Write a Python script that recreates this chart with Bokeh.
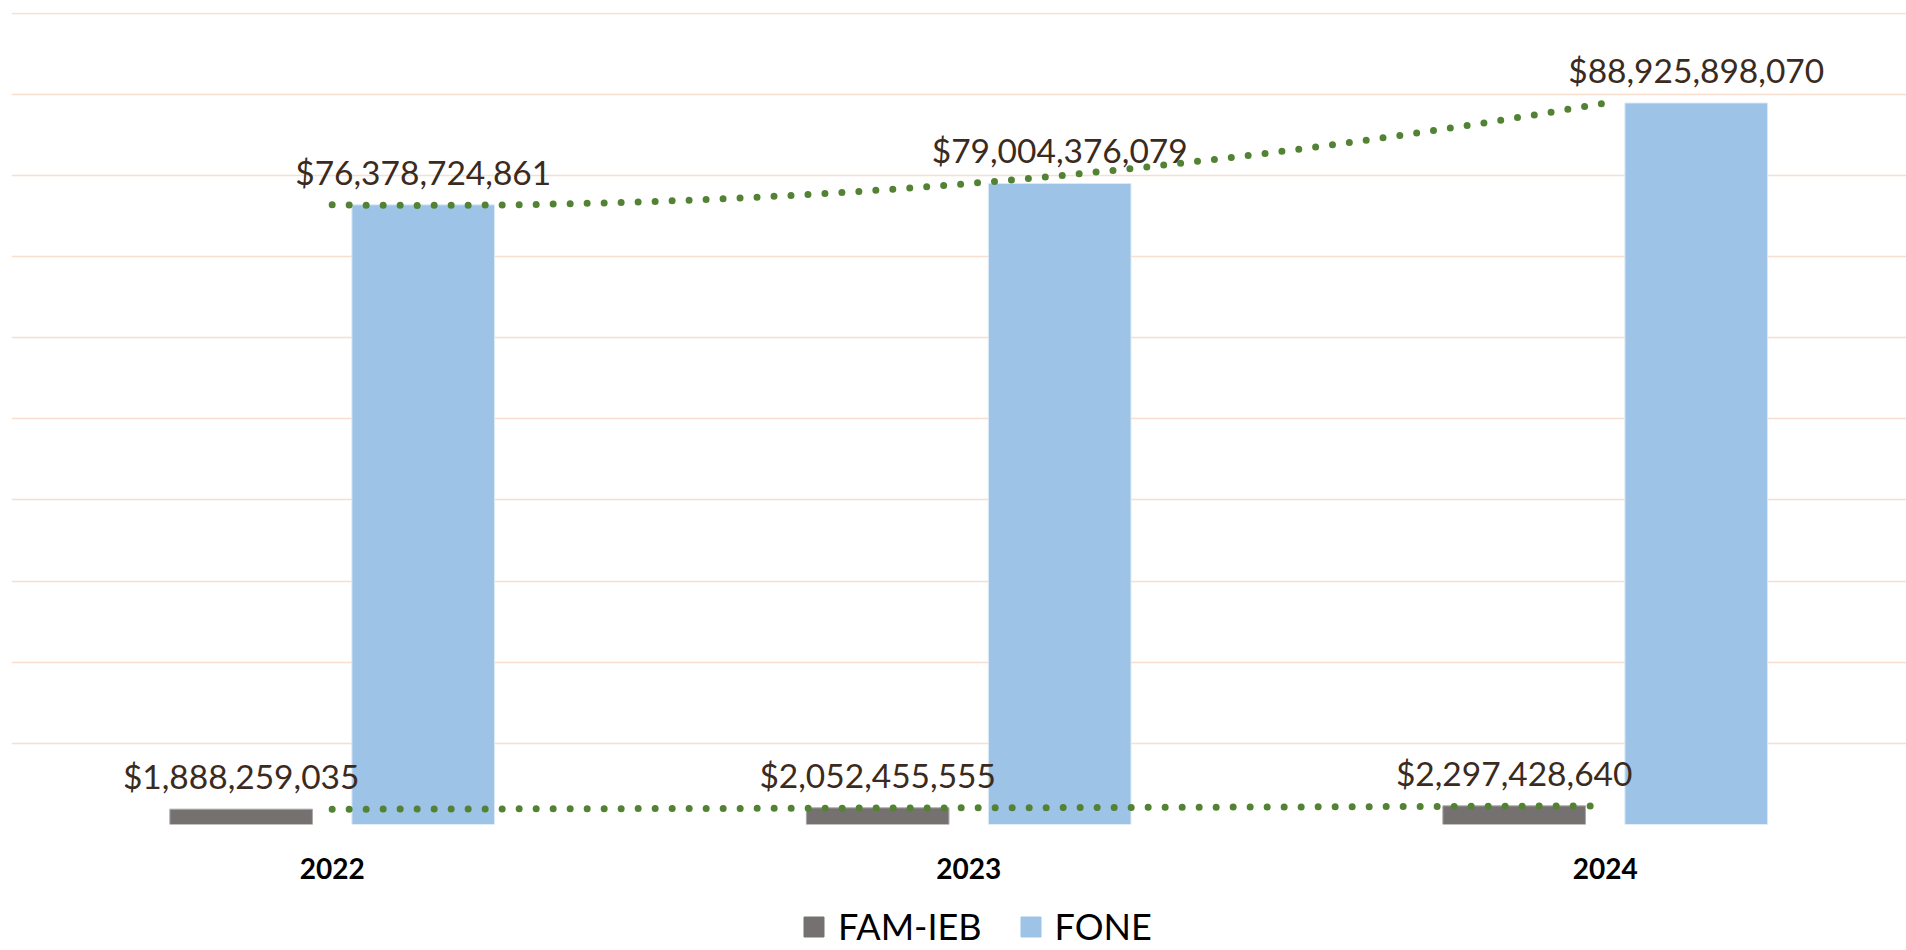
import numpy as np
from bokeh.plotting import figure
from bokeh.layouts import column
from bokeh.models import (ColumnDataSource, Range1d, FixedTicker, Legend, LegendItem,
                          LabelSet)
from bokeh.core.properties import value
from bokeh.embed import file_html
from bokeh.resources import INLINE

# ---- data ----
categories = ["2022", "2023", "2024"]
fam_ieb = [1888259035, 2052455555, 2297428640]
fone = [76378724861, 79004376079, 88925898070]
series_names = ["FAM-IEB", "FONE"]

def money(v):
    return "${:,.0f}".format(v)

xc = np.arange(len(categories), dtype=float)
offset = 0.143
bar_w = 0.224

FAM_COLOR = "#767171"
FONE_COLOR = "#9DC3E6"
TREND = "#548235"
LABEL = "#3B2B1E"
GRID = "#F6DFCE"

p = figure(frame_width=1895, frame_height=812, output_backend="svg",
           toolbar_location=None, x_range=Range1d(-0.5038, 2.4734),
           y_range=Range1d(0, 1.0008e11),
           min_border_top=12, min_border_left=11, min_border_right=0,
           min_border_bottom=70, outline_line_color=None)

src_fam = ColumnDataSource(dict(x=xc - offset, top=fam_ieb,
                                lbl=[money(v) for v in fam_ieb]))
src_fone = ColumnDataSource(dict(x=xc + offset, top=fone,
                                 lbl=[money(v) for v in fone]))

r_fam = p.vbar(x="x", top="top", bottom=0, width=bar_w, source=src_fam,
               fill_color=FAM_COLOR, line_color="#A9A6A6", line_width=1)
r_fone = p.vbar(x="x", top="top", bottom=0, width=bar_w, source=src_fone,
                fill_color=FONE_COLOR, line_color="#DCE9F5", line_width=1)

# polynomial (order 2) trendlines through category centers
xs = np.linspace(0, 2, 200)
for vals in (fam_ieb, fone):
    coef = np.polyfit(xc, np.array(vals, dtype=float), 2)
    p.line(xs, np.polyval(coef, xs), line_color=TREND, line_width=7,
           line_dash="0 17", line_cap="round")

for src in (src_fam, src_fone):
    p.add_layout(LabelSet(x="x", y="top", text="lbl", source=src,
                          text_align="center", text_baseline="alphabetic",
                          y_offset=20, text_font=value("Lato"),
                          text_font_size=value("33.5px"),
                          text_color=value(LABEL)))

# axes / grid
p.yaxis.visible = False
p.ygrid.ticker = FixedTicker(ticks=[i * 1e10 for i in range(11)])
p.ygrid.grid_line_color = GRID
p.ygrid.grid_line_width = 1.5
p.xgrid.visible = False

xa = p.xaxis[0]
xa.ticker = FixedTicker(ticks=list(xc))
xa.major_label_overrides = {i: c for i, c in enumerate(categories)}
xa.axis_line_color = None
xa.major_tick_line_color = None
xa.minor_tick_line_color = None
xa.major_tick_out = 0
xa.major_tick_in = 0
xa.major_label_standoff = 33
xa.major_label_text_font = "Lato"
xa.major_label_text_font_style = "bold"
xa.major_label_text_font_size = "28px"
xa.major_label_text_color = "#000000"

# ---- legend strip below the chart ----
leg_h = 950 - (12 + 812 + 70)
lf = figure(width=1906, height=leg_h, output_backend="svg", toolbar_location=None,
            x_range=Range1d(0, 1), y_range=Range1d(0, 1),
            min_border=0, outline_line_color=None)
lf.axis.visible = False
lf.grid.visible = False
# legend-only proxies (placed outside the visible range of the strip)
proxy = ColumnDataSource(dict(x=[-5.0], top=[0.0]))
l_fam = lf.vbar(x="x", top="top", width=0.1, source=proxy,
                fill_color=FAM_COLOR, line_color=FAM_COLOR)
l_fone = lf.vbar(x="x", top="top", width=0.1, source=proxy,
                 fill_color=FONE_COLOR, line_color=FONE_COLOR)
legend = Legend(items=[LegendItem(label=series_names[0], renderers=[l_fam]),
                       LegendItem(label=series_names[1], renderers=[l_fone])],
                orientation="horizontal", location=(790, 2),
                glyph_width=25, glyph_height=25, label_standoff=12, spacing=36,
                label_text_font="Lato", label_text_font_size="36px",
                label_text_color="#000000", border_line_color=None,
                background_fill_alpha=0, padding=0, margin=0)
lf.add_layout(legend, "center")

layout = column(p, lf, spacing=0)
open("out.html", "w").write(file_html(layout, INLINE))
